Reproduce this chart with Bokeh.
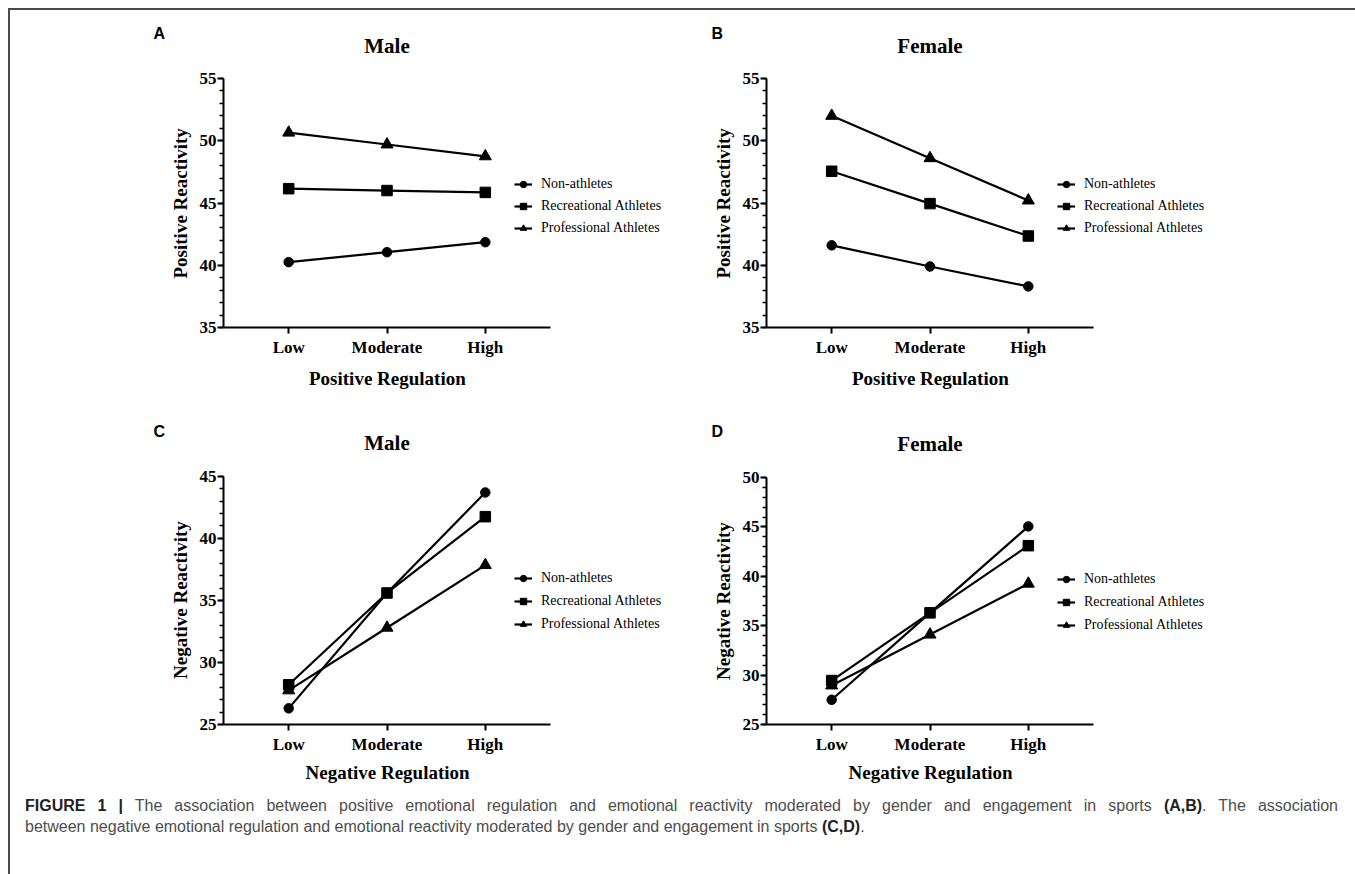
from bokeh.plotting import figure
from bokeh.models import (Range1d, SingleIntervalTicker, FixedTicker, Legend,
                          LegendItem, Label, Title, Div)
from bokeh.layouts import column, row
from bokeh.embed import file_html
from bokeh.resources import INLINE

# ---------------- data ----------------
categories = ["Low", "Moderate", "High"]
groups = ["Non-athletes", "Recreational Athletes", "Professional Athletes"]

# Panel A (Male, positive regulation -> positive reactivity)
a_non = [40.25, 41.05, 41.85]
a_rec = [46.15, 46.0, 45.85]
a_pro = [50.65, 49.7, 48.75]
# Panel B (Female, positive)
b_non = [41.6, 39.9, 38.3]
b_rec = [47.55, 44.95, 42.35]
b_pro = [52.0, 48.6, 45.2]
# Panel C (Male, negative)
c_non = [26.3, 35.6, 43.7]
c_rec = [28.2, 35.6, 41.75]
c_pro = [27.75, 32.8, 37.85]
# Panel D (Female, negative)
d_non = [27.5, 36.3, 45.05]
d_rec = [29.45, 36.3, 43.1]
d_pro = [28.95, 34.1, 39.25]

# ---------------- styling / geometry ----------------
SERIF = "Liberation Serif"
SANS = "Liberation Sans"
MARKERS = ["circle", "square", "triangle"]
MSIZE = [9.5, 10.5, 12]

XS = [i + 1 for i in range(len(categories))]      # category positions
X0 = 1 - 0.663                                     # axis start
X1 = len(categories) + 0.663                       # axis end
AXIS_W = 327                                       # px length of x axis
UPX = AXIS_W / (X1 - X0)                           # px per x unit

# approximate rendered widths of the bold serif titles (for left-aligned titles)
TEXT_W = {"Positive Reactivity": 151, "Negative Reactivity": 158,
          "Positive Regulation": 156, "Negative Regulation": 163}


def make_panel(letter, title, xlabel, ylabel, series, y0, y1, *,
               fig_left, fig_top, width, height, frame_left,
               axis_top, axis_bottom, title_cy, letter_left,
               letter_standoff, xtitle_standoff, leg_xy, leg_spacing):
    frame_top = title_cy - 8
    bl = frame_left - fig_left
    bt = frame_top - fig_top
    bb = fig_top + height - axis_bottom
    frame_w = width - bl
    ppu = (axis_bottom - axis_top) / (y1 - y0)
    y_end = y1 + (axis_top - frame_top) / ppu
    x_end = X0 + frame_w / UPX

    p = figure(width=width, height=height,
               x_range=Range1d(X0, x_end), y_range=Range1d(y0, y_end),
               output_backend="svg", toolbar_location=None,
               min_border_left=bl, min_border_right=0,
               min_border_top=bt, min_border_bottom=bb,
               background_fill_color="white", border_fill_color="white")
    p.outline_line_color = None
    p.xgrid.visible = False
    p.ygrid.visible = False

    # panel letter (as plot title, shifted left of the frame)
    p.title = Title(text=letter, align="left", offset=letter_left - frame_left,
                    text_font=SANS, text_font_style="bold",
                    text_font_size="16px", text_color="black",
                    standoff=letter_standoff)

    # axes
    for ax in (p.xaxis[0], p.yaxis[0]):
        ax.axis_line_width = 2
        ax.axis_line_color = "black"
        ax.major_tick_line_width = 2
        ax.major_tick_line_color = "black"
        ax.major_tick_in = 0
        ax.major_tick_out = 6
        ax.major_label_text_font = SERIF
        ax.major_label_text_font_style = "bold"
        ax.major_label_text_font_size = "17px"
        ax.major_label_text_color = "black"
    p.xaxis.bounds = (X0, X1)
    p.xaxis.ticker = FixedTicker(ticks=XS)
    p.xaxis.major_label_overrides = {x: c for x, c in zip(XS, categories)}
    p.xaxis.minor_tick_line_color = None
    p.xaxis.major_label_standoff = 4

    p.yaxis.bounds = (y0, y1)
    p.yaxis.ticker = SingleIntervalTicker(interval=5, num_minor_ticks=5)
    p.yaxis.minor_tick_in = 0
    p.yaxis.minor_tick_out = 4
    p.yaxis.minor_tick_line_width = 1.5
    p.yaxis.minor_tick_line_color = "black"
    p.yaxis.major_label_standoff = 1

    # axis titles as side titles, centred on the axis (not on the frame)
    mid_px = (XS[1] - X0) * UPX
    p.add_layout(Title(text=xlabel, align="left",
                       offset=mid_px - TEXT_W[xlabel] / 2,
                       text_font=SERIF, text_font_style="bold",
                       text_font_size="19px", text_color="black",
                       standoff=xtitle_standoff), "below")
    ymid = (axis_bottom - axis_top) / 2
    p.add_layout(Title(text=ylabel, align="left",
                       offset=ymid - TEXT_W[ylabel] / 2,
                       text_font=SERIF, text_font_style="bold",
                       text_font_size="19px", text_color="black",
                       standoff=12), "left")

    # panel heading ("Male"/"Female") centred over the middle category
    p.add_layout(Label(x=XS[1], y=y1 + (axis_top - title_cy) / ppu, text=title,
                       text_font=SERIF, text_font_style="bold",
                       text_font_size="21px", text_color="black",
                       text_align="center", text_baseline="middle"))

    items = []
    for name, vals, mk, ms in zip(groups, series, MARKERS, MSIZE):
        ln = p.line(XS, vals, line_color="black", line_width=2.2)
        sc = p.scatter(XS, vals, marker=mk, size=ms,
                       fill_color="black", line_color="black")
        items.append(LegendItem(label=name, renderers=[ln, sc]))

    leg = Legend(items=items, location=leg_xy, orientation="vertical",
                 glyph_width=18, glyph_height=16, label_height=16,
                 spacing=leg_spacing, padding=0, margin=0, label_standoff=9,
                 border_line_alpha=0, background_fill_alpha=0,
                 label_text_font=SERIF, label_text_font_size="14px",
                 label_text_color="black")
    p.add_layout(leg)
    return p


pA = make_panel("A", "Male", "Positive Regulation", "Positive Reactivity",
                [a_non, a_rec, a_pro], 35, 55,
                fig_left=10, fig_top=10, width=670, height=390, frame_left=223,
                axis_top=78, axis_bottom=327, title_cy=45, letter_left=153,
                letter_standoff=-8, xtitle_standoff=12,
                leg_xy=(291, 91), leg_spacing=6)
pB = make_panel("B", "Female", "Positive Regulation", "Positive Reactivity",
                [b_non, b_rec, b_pro], 35, 55,
                fig_left=680, fig_top=10, width=673, height=390, frame_left=766,
                axis_top=78, axis_bottom=327, title_cy=45, letter_left=711,
                letter_standoff=-8, xtitle_standoff=12,
                leg_xy=(291, 91), leg_spacing=6)
pC = make_panel("C", "Male", "Negative Regulation", "Negative Reactivity",
                [c_non, c_rec, c_pro], 25, 45,
                fig_left=10, fig_top=400, width=670, height=390, frame_left=223,
                axis_top=475, axis_bottom=724, title_cy=442, letter_left=153,
                letter_standoff=-8, xtitle_standoff=6,
                leg_xy=(291, 92), leg_spacing=7)
pD = make_panel("D", "Female", "Negative Regulation", "Negative Reactivity",
                [d_non, d_rec, d_pro], 25, 50,
                fig_left=680, fig_top=400, width=673, height=390, frame_left=766,
                axis_top=477, axis_bottom=724, title_cy=443, letter_left=711,
                letter_standoff=-8, xtitle_standoff=6,
                leg_xy=(291, 91), leg_spacing=7)

caption = Div(
    text=('<div style="font-family:\'Liberation Sans\',Arial,sans-serif;'
          'font-size:16px;line-height:21px;color:#4d4d4d;">'
          '<div style="width:1313px;text-align:justify;text-align-last:justify;">'
          '<b style="color:#222;">FIGURE 1 |</b> The association between positive '
          'emotional regulation and emotional reactivity moderated by gender and '
          'engagement in sports <b style="color:#222;">(A,B)</b>. The association</div>'
          '<div style="white-space:nowrap;">'
          'between negative emotional regulation and emotional reactivity moderated '
          'by gender and engagement in sports <b style="color:#222;">(C,D)</b>.</div></div>'),
    width=1343, height=82,
    styles={"padding-left": "10px", "padding-top": "0px", "box-sizing": "border-box"})

layout = column(row(pA, pB), row(pC, pD), caption,
                margin=(8, 0, 0, 8),
                styles={"border-top": "2px solid #4a4a4a",
                        "border-left": "2px solid #4a4a4a"})

open("out.html", "w").write(file_html(layout, INLINE))
